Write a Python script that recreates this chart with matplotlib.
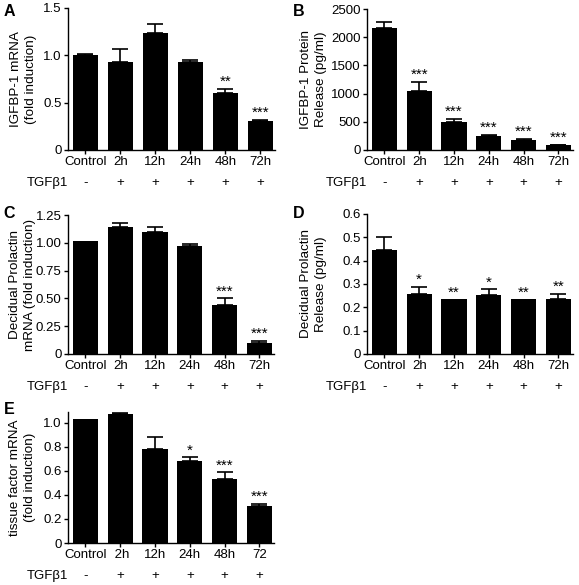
import matplotlib
matplotlib.use('Agg')
import matplotlib.pyplot as plt

plt.rcParams['font.family'] = ['Liberation Sans', 'DejaVu Sans']
plt.rcParams['font.size'] = 9
plt.rcParams['axes.linewidth'] = 1.0

groups = ['Control', '2h', '12h', '24h', '48h', '72h']
groups_e = ['Control', ' 2h', '12h', '24h', '48h', '72']
treat = ['-', '+', '+', '+', '+', '+']

a_mean = [1.00, 0.93, 1.235, 0.93, 0.597, 0.31]
a_sem = [0.01, 0.14, 0.095, 0.018, 0.045, 0.01]
a_sig = ['', '', '', '', '**', '***']

b_mean = [2162, 1049, 503, 255, 184, 83]
b_sem = [100, 165, 48, 17, 17, 12]
b_sig = ['', '***', '***', '***', '***', '***']

c_mean = [1.02, 1.145, 1.10, 0.971, 0.44, 0.10]
c_sem = [0, 0.03, 0.045, 0.018, 0.06, 0.017]
c_sig = ['', '', '', '', '***', '***']

d_mean = [0.446, 0.257, 0.234, 0.253, 0.234, 0.237]
d_sem = [0.057, 0.032, 0, 0.024, 0, 0.022]
d_sig = ['', '*', '**', '*', '**', '**']

e_mean = [1.03, 1.07, 0.78, 0.679, 0.536, 0.308]
e_sem = [0, 0.012, 0.105, 0.033, 0.052, 0.016]
e_sig = ['', '', '', '*', '***', '***']

W, H = 579, 585
fig = plt.figure(figsize=(W / 100, H / 100), dpi=100)


def px_axes(l, r, t, b):
    return fig.add_axes([l / W, 1 - b / H, (r - l) / W, (b - t) / H])


def panel(ax, mean, sem, sig, labels, ylabel, yticks, yticklabels, ylim, label_x):
    x = list(range(len(mean)))
    ax.bar(x, mean, width=0.72, color='black', zorder=2)
    for xi, m, s, st in zip(x, mean, sem, sig):
        if s > 0:
            ax.errorbar(xi, m, yerr=[[0], [s]], fmt='none', ecolor='black',
                        elinewidth=1.2, capsize=5.5, capthick=1.2, zorder=3)
        if st:
            ax.annotate(st, xy=(xi, m + s), xytext=(0, 0), textcoords='offset points',
                        ha='center', va='bottom', fontsize=11)
    ax.set_xlim(-0.5, 5.42)
    ax.set_ylim(*ylim)
    ax.set_xticks(x)
    ax.set_xticklabels(labels)
    ax.set_yticks(yticks)
    ax.set_yticklabels(yticklabels)
    ax.set_ylabel(ylabel, linespacing=1.35, fontsize=9.7, va='center')
    ax.yaxis.set_label_coords(label_x, 0.5)
    for side in ['top', 'right']:
        ax.spines[side].set_visible(False)
    ax.tick_params(direction='out', length=3, width=1, pad=1.5, labelsize=9.5)
    # treatment row under the axis
    for xi, t in zip(x, treat):
        ax.annotate(t, xy=(xi, 0), xycoords=('data', 'axes fraction'),
                    xytext=(0, -23.5), textcoords='offset points',
                    ha='center', va='center', fontsize=9.5)
    ax.annotate('TGF\u03b21', xy=(-0.5, 0), xycoords=('data', 'axes fraction'),
                xytext=(0, -23.5), textcoords='offset points',
                ha='right', va='center', fontsize=9.5)
    return ax


axA = px_axes(68, 275, 8, 150)
panel(axA, a_mean, a_sem, a_sig, groups, 'IGFBP-1 mRNA\n(fold induction)',
      [0, 0.5, 1.0, 1.5], ['0', '0.5', '1.0', '1.5'], (0, 1.5), -0.215)

axB = px_axes(367, 573, 9, 150)
panel(axB, b_mean, b_sem, b_sig, groups, 'IGFBP-1 Protein\nRelease (pg/ml)',
      [0, 500, 1000, 1500, 2000, 2500], ['0', '500', '1000', '1500', '2000', '2500'],
      (0, 2500), -0.26)

axC = px_axes(68, 274, 215, 354)
panel(axC, c_mean, c_sem, c_sig, groups, 'Decidual Prolactin\nmRNA (fold induction)',
      [0, 0.25, 0.5, 0.75, 1.0, 1.25], ['0', '0.25', '0.50', '0.75', '1.00', '1.25'],
      (0, 1.25), -0.221)

axD = px_axes(367, 573, 214, 354)
panel(axD, d_mean, d_sem, d_sig, groups, 'Decidual Prolactin\nRelease (pg/ml)',
      [0, 0.1, 0.2, 0.3, 0.4, 0.5, 0.6], ['0', '0.1', '0.2', '0.3', '0.4', '0.5', '0.6'],
      (0, 0.6), -0.26)

axE = px_axes(68, 274, 412, 543)
panel(axE, e_mean, e_sem, e_sig, groups_e, 'tissue factor mRNA\n(fold induction)',
      [0, 0.2, 0.4, 0.6, 0.8, 1.0], ['0', '0.2', '0.4', '0.6', '0.8', '1.0'],
      (0, 1.09), -0.221)

for letter, xp, yp in [('A', 9, 11), ('B', 299, 11), ('C', 9, 213), ('D', 299, 213), ('E', 9, 410)]:
    fig.text(xp / W, 1 - yp / H, letter, fontsize=11.5, fontweight='bold',
             ha='center', va='center')

fig.savefig('out.png', dpi=100)
